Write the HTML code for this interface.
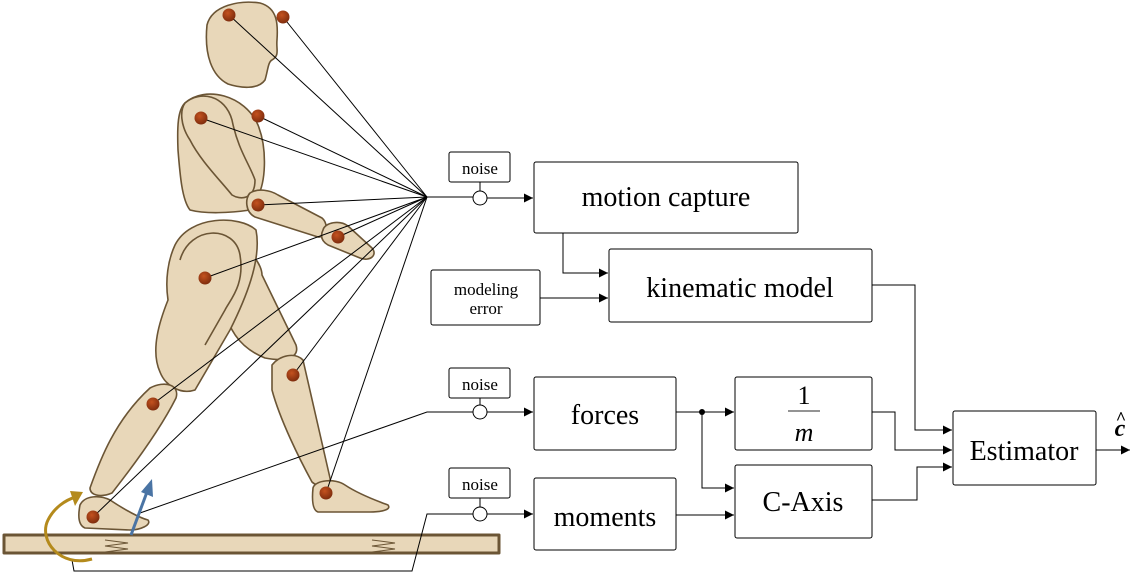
<!DOCTYPE html>
<html><head><meta charset="utf-8"><style>
html,body{margin:0;padding:0;background:#fff;}
svg{display:block;}
text{font-family:"Liberation Serif",serif;fill:#000;}
</style></head><body>
<svg width="1132" height="574" viewBox="0 0 1132 574" xmlns="http://www.w3.org/2000/svg">
<defs>
<marker id="ar" viewBox="0 0 10 10" refX="10" refY="5" markerWidth="10" markerHeight="9" orient="auto" markerUnits="userSpaceOnUse"><path d="M0,0 L10,5 L0,10 z" fill="#000"/></marker>
<radialGradient id="mk" cx="0.4" cy="0.35" r="0.7"><stop offset="0" stop-color="#c4521f"/><stop offset="1" stop-color="#7a2a0c"/></radialGradient>
</defs>
<g fill="#e8d7b9" stroke="#6b5535" stroke-width="1.6" stroke-linejoin="round">
<rect x="4" y="535" width="495" height="18" stroke-width="3"/>
<path d="M232,250 C250,245 262,265 262,275 L296,345 C300,358 285,362 265,358 C245,350 230,335 225,310 Z"/>
<path d="M272,365 C280,355 295,352 303,360 L330,478 C332,486 318,488 312,482 C300,460 280,420 272,390 Z"/>
<path d="M313,488 C315,480 335,478 345,485 C360,495 380,502 388,505 C392,510 380,512 370,512 L318,512 C312,510 312,498 313,488 Z"/>
<path d="M175,245 C190,215 240,215 256,230 C262,260 245,300 230,330 L195,390 C180,395 165,385 160,372 C150,350 160,320 168,300 C165,280 168,260 175,245 Z"/>
<path d="M180,260 C190,225 235,225 240,255 C245,285 230,300 225,310 L205,345" fill="none"/>
<path d="M150,388 C165,380 180,385 176,398 C160,430 130,470 112,493 C100,498 90,495 90,488 C100,460 115,420 150,388 Z"/>
<path d="M80,505 C85,495 100,495 110,500 C125,510 140,518 148,520 C152,525 140,530 130,530 L85,528 C78,525 78,515 80,505 Z"/>
<path d="M185,103 C205,85 245,95 258,125 C268,150 265,185 258,195 L250,210 C230,213 205,214 190,210 C182,200 180,175 178,150 C177,125 178,110 185,103 Z"/>
<path d="M185,103 C200,90 225,95 232,120 C238,150 250,165 255,180 C255,200 240,200 232,195 C220,180 200,160 190,140 C180,125 180,110 185,103 Z"/>
<path d="M250,193 C258,188 270,190 278,195 L322,218 C330,225 325,238 318,237 L255,217 C245,212 245,198 250,193 Z"/>
<path d="M323,230 C325,222 340,220 348,226 L372,248 C378,255 370,262 360,258 L328,245 C320,240 321,234 323,230 Z"/>
<path d="M207,25 C212,5 240,0 260,3 C278,8 278,25 277,40 C276,50 280,55 272,60 C268,62 268,70 265,80 C258,90 240,88 228,84 C212,76 204,55 207,25 Z"/>
</g>
<g fill="none" stroke="#6b5535" stroke-width="1">
<path d="M105,540 L128,543 L105,546 L128,549 L105,552"/>
<path d="M372,540 L395,543 L372,546 L395,549 L372,552"/>
</g>
<g stroke="#000" stroke-width="1" fill="none">
<line x1="427" y1="197" x2="229" y2="15"/>
<line x1="427" y1="197" x2="283" y2="17"/>
<line x1="427" y1="197" x2="201" y2="118"/>
<line x1="427" y1="197" x2="258" y2="116"/>
<line x1="427" y1="197" x2="258" y2="205"/>
<line x1="427" y1="197" x2="338" y2="237"/>
<line x1="427" y1="197" x2="205" y2="278"/>
<line x1="427" y1="197" x2="293" y2="375"/>
<line x1="427" y1="197" x2="153" y2="404"/>
<line x1="427" y1="197" x2="326" y2="493"/>
<line x1="427" y1="197" x2="93" y2="517"/>
<line x1="427" y1="197" x2="473" y2="197"/>
<polyline points="140,513 427,412 473,412"/>
<polyline points="72,560 74,571 412,571 427,514 473,514"/>
</g>
<g fill="url(#mk)">
<circle cx="229" cy="15" r="6.5"/><circle cx="283" cy="17" r="6.5"/>
<circle cx="201" cy="118" r="6.5"/><circle cx="258" cy="116" r="6.5"/>
<circle cx="258" cy="205" r="6.5"/><circle cx="338" cy="237" r="6.5"/>
<circle cx="205" cy="278" r="6.5"/><circle cx="293" cy="375" r="6.5"/>
<circle cx="153" cy="404" r="6.5"/><circle cx="326" cy="493" r="6.5"/>
<circle cx="93" cy="517" r="6.5"/>
</g>
<line x1="131" y1="535" x2="147" y2="492" stroke="#4a74a4" stroke-width="3"/>
<path d="M152,479 L153,497 L141,492 Z" fill="#4a74a4"/>
<path d="M92,559 C60,568 38,540 48,520 C54,508 65,500 76,497" fill="none" stroke="#b48a1c" stroke-width="3"/>
<path d="M83,492 L70,491 L75,506 Z" fill="#b48a1c"/>
<g fill="#fff" stroke="#000" stroke-width="1">
<rect x="449" y="152" width="61" height="30" rx="2"/>
<rect x="449" y="368" width="61" height="30" rx="2"/>
<rect x="449" y="468" width="61" height="30" rx="2"/>
<rect x="534" y="162" width="264" height="71" rx="2"/>
<rect x="609" y="249" width="263" height="73" rx="2"/>
<rect x="431" y="270" width="109" height="55" rx="2"/>
<rect x="534" y="377" width="142" height="73" rx="2"/>
<rect x="735" y="377" width="137" height="73" rx="2"/>
<rect x="534" y="478" width="142" height="72" rx="2"/>
<rect x="735" y="465" width="137" height="73" rx="2"/>
<rect x="953" y="411" width="143" height="74" rx="2"/>
</g>
<g stroke="#000" stroke-width="1" fill="none">
<line x1="480" y1="182" x2="480" y2="191"/>
<line x1="480" y1="398" x2="480" y2="405"/>
<line x1="480" y1="498" x2="480" y2="507"/>
<line x1="487" y1="198" x2="533" y2="198" marker-end="url(#ar)"/>
<line x1="487" y1="412" x2="533" y2="412" marker-end="url(#ar)"/>
<line x1="487" y1="514" x2="533" y2="514" marker-end="url(#ar)"/>
<polyline points="563,233 563,273 608,273" marker-end="url(#ar)"/>
<line x1="540" y1="298" x2="608" y2="298" marker-end="url(#ar)"/>
<line x1="676" y1="412" x2="734" y2="412" marker-end="url(#ar)"/>
<polyline points="702,412 702,488 734,488" marker-end="url(#ar)"/>
<line x1="676" y1="515" x2="734" y2="515" marker-end="url(#ar)"/>
<polyline points="872,285 915,285 915,430 952,430" marker-end="url(#ar)"/>
<polyline points="872,412 895,412 895,450 952,450" marker-end="url(#ar)"/>
<polyline points="872,500 917,500 917,467 952,467" marker-end="url(#ar)"/>
<line x1="1096" y1="450" x2="1130" y2="450" marker-end="url(#ar)"/>
</g>
<g fill="#fff" stroke="#000" stroke-width="1">
<circle cx="480" cy="198" r="7"/><circle cx="480" cy="412" r="7"/><circle cx="480" cy="514" r="7"/>
</g>
<circle cx="702" cy="412" r="3" fill="#000"/>
<line x1="788" y1="411" x2="820" y2="411" stroke="#555" stroke-width="1.2"/>
<g text-anchor="middle">
<text x="480" y="174" font-size="17">noise</text>
<text x="480" y="390" font-size="17">noise</text>
<text x="480" y="490" font-size="17">noise</text>
<text x="666" y="206" font-size="28">motion capture</text>
<text x="740" y="297" font-size="28">kinematic model</text>
<text x="486" y="295" font-size="17">modeling</text>
<text x="486" y="314" font-size="17">error</text>
<text x="605" y="424" font-size="28">forces</text>
<text x="605" y="526" font-size="28">moments</text>
<text x="803" y="511" font-size="28">C-Axis</text>
<text x="1024" y="460" font-size="28">Estimator</text>
<text x="804" y="404" font-size="26" fill="#444">1</text>
<text x="804" y="441" font-size="26" font-style="italic" fill="#444">m</text>
<text x="1120" y="436" font-size="24" font-weight="bold" font-style="italic">c</text>
<text x="1121" y="424" font-size="18" font-weight="bold">^</text>
</g>
</svg>
</body></html>
